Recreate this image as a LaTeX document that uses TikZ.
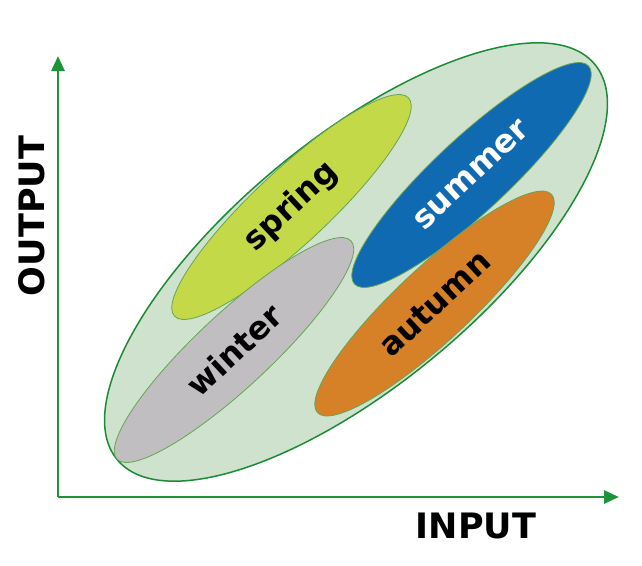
\documentclass[tikz,border=0pt]{standalone}
\usepackage{fontspec}
\setmainfont{DejaVu Sans}
\usetikzlibrary{shapes.geometric,arrows.meta}
\definecolor{axisgreen}{RGB}{30,148,56}
\definecolor{rimgreen}{RGB}{28,140,52}
\definecolor{hatchfill}{RGB}{206,226,206}
\definecolor{seasonline}{RGB}{104,164,84}
\definecolor{springc}{RGB}{196,217,72}
\definecolor{winterc}{RGB}{192,190,192}
\definecolor{summerc}{RGB}{16,106,178}
\definecolor{autumnc}{RGB}{214,128,40}
\tikzset{
  season/.style={ellipse, draw=seasonline, line width=0.8pt, minimum width=320pt,
    minimum height=74pt, inner sep=0pt, rotate=43,
    font=\fontsize{32}{32}\selectfont\bfseries},
  axislabel/.style={font=\fontsize{35}{35}\selectfont\bfseries},
  axisline/.style={draw=axisgreen, line width=2.8pt, -{Triangle[length=15pt,width=13pt]}}
}
\begin{document}
\begin{tikzpicture}[x=1pt,y=-1pt]
  \useasboundingbox (0,0) rectangle (642,565);
  % whole year
  \node[ellipse, draw=rimgreen, line width=1.5pt, fill=hatchfill, minimum width=620pt,
    minimum height=246pt, rotate=39.6] (year) at (356,262) {};
  % seasons
  \node[season, fill=springc] (spring) at (291.5,207) {spring};
  \node[season, fill=winterc] (winter) at (234,350) {winter};
  \node[season, fill=summerc, text=white] (summer) at (471.5,175) {summer};
  \node[season, fill=autumnc] (autumn) at (434.5,303.5) {autumn};
  % axes
  \coordinate (origin) at (58,497);
  \coordinate (ytip) at (58,56);
  \coordinate (xtip) at (619,497);
  \draw[axisline] (origin) -- (ytip);
  \draw[axisline] (origin) -- (xtip);
  \node[axislabel, rotate=90] (output) at (32,216) {OUTPUT};
  \node[axislabel] (input) at (476,526) {INPUT};
\end{tikzpicture}
\end{document}
